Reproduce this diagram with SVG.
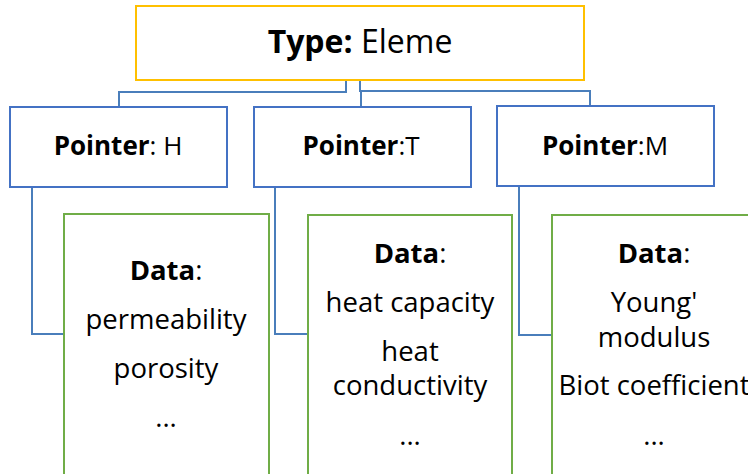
<svg xmlns="http://www.w3.org/2000/svg" width="748" height="474" viewBox="0 0 748 474">
<style>
text{font-family:"Open Sans","Noto Sans",sans-serif;fill:#000;text-anchor:middle}
.b{font-weight:bold}
.top{fill:#fff;stroke:#FFC000;stroke-width:2}
.ptr{fill:#fff;stroke:#4472C4;stroke-width:2}
.dat{fill:#fff;stroke:#70AD47;stroke-width:2}
.con{fill:none;stroke:#4A7EBB;stroke-width:2}
.t1{font-size:32px}
.t2{font-size:26px}
.t3{font-size:27.5px}
</style>
<rect width="748" height="474" fill="#fff"/>
<g id="connectors">
<path class="con" d="M346 80V92H119V107"/>
<path class="con" d="M360 80V91H590V106"/>
<path class="con" d="M361 91V107"/>
<path class="con" d="M32 187V334H64"/>
<path class="con" d="M275 187V334H308"/>
<path class="con" d="M519 186V335H552"/>
</g>
<g id="type">
<rect class="top" x="136" y="6" width="448" height="74"/>
<text class="t1" x="360" y="53"><tspan class="b">Type:</tspan> Eleme</text>
</g>
<g id="pointerH">
<rect class="ptr" x="10" y="107" width="217" height="80"/>
<text class="t2" x="118" y="155"><tspan class="b">Pointer</tspan>: H</text>
</g>
<g id="pointerT">
<rect class="ptr" x="254" y="107" width="217" height="80"/>
<text class="t2" x="361" y="155"><tspan class="b">Pointer</tspan>:T</text>
</g>
<g id="pointerM">
<rect class="ptr" x="497" y="106" width="217" height="80"/>
<text class="t2" x="605" y="155"><tspan class="b">Pointer</tspan>:M</text>
</g>
<g id="dataH">
<rect class="dat" x="64" y="214" width="205" height="270"/>
<text class="t3" x="166" y="280"><tspan class="b">Data</tspan>:</text>
<text class="t3" x="166" y="329">permeability</text>
<text class="t3" x="166" y="378">porosity</text>
<text class="t3" x="166" y="427">...</text>
</g>
<g id="dataT">
<rect class="dat" x="308" y="215" width="204" height="270"/>
<text class="t3" x="410" y="263"><tspan class="b">Data</tspan>:</text>
<text class="t3" x="410" y="312">heat capacity</text>
<text class="t3" x="410" y="361">heat</text>
<text class="t3" x="410" y="395">conductivity</text>
<text class="t3" x="410" y="445">...</text>
</g>
<g id="dataM">
<rect class="dat" x="552" y="215" width="204" height="270"/>
<text class="t3" x="654" y="263"><tspan class="b">Data</tspan>:</text>
<text class="t3" x="654" y="312">Young'</text>
<text class="t3" x="654" y="347">modulus</text>
<text class="t3" x="654" y="395">Biot coefficient</text>
<text class="t3" x="654" y="445">...</text>
</g>
</svg>
